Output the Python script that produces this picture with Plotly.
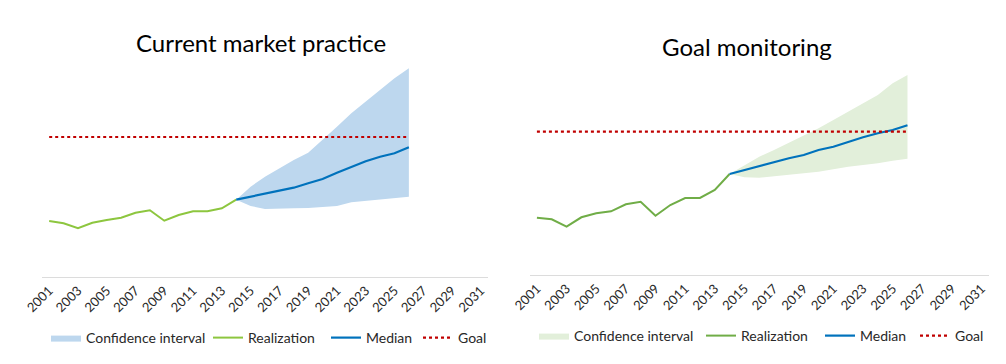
import plotly.graph_objects as go

years_hist = list(range(2001, 2015))
years_proj = list(range(2014, 2027))

# Left panel: Current market practice
left_realization = [56, 53.7, 48.7, 54.3, 57, 59.3, 64.3, 66.7, 56.3, 62, 65.7, 65.7, 68.7, 77.3]
left_median = [77.3, 80.3, 83.7, 86.3, 89.3, 93.7, 98, 104.3, 110.3, 115.7, 120.3, 123.7, 129.7]
left_upper = [77.3, 90.3, 100.3, 108.7, 117, 124.3, 137, 150.3, 163.7, 175.3, 187, 198.7, 208.7]
left_lower = [77.3, 71, 68, 68.7, 68.7, 69, 69.7, 71, 74.7, 76, 77, 78.7, 80.3]
left_goal = 140

# Right panel: Goal monitoring
right_realization = [57.3, 55.7, 48.3, 57.7, 61.7, 63.7, 70.7, 73.3, 59.3, 70, 77, 77, 85, 101]
right_median = [101, 105, 109, 112.7, 116.7, 120, 125, 128.3, 133.3, 137.7, 141.7, 145, 149.7]
right_upper = [101, 110, 118.3, 125, 132.3, 140, 146.7, 155, 163.3, 171.7, 180, 191.7, 200]
right_lower = [101, 97.7, 97.3, 99, 100, 101.7, 103.3, 106, 108.3, 110, 111.7, 114.3, 116.3]
right_goal = 143.3

goal_years = [2001, 2026]
titles = ["Current market practice", "Goal monitoring"]
legend_names = ["Confidence interval", "Realization", "Median", "Goal"]

FONT = "Lato"
OFF = 8  # page body margin in the browser
W, H = 1006 - 2 * OFF, 364 - 2 * OFF


def px(x):
    return (x - OFF) / W


def py(y):
    return (H - (y - OFF)) / H


fig = go.Figure()

panels = [
    dict(real=left_realization, med=left_median, up=left_upper, lo=left_lower, goal=left_goal,
         band="rgb(189,215,238)", real_col="rgb(141,198,63)", xa="x", ya="y",
         legs=["legend", "legend2", "legend3", "legend4"],
         leg_x=[51, 213, 331, 423], leg_y=338),
    dict(real=right_realization, med=right_median, up=right_upper, lo=right_lower, goal=right_goal,
         band="rgb(226,239,218)", real_col="rgb(112,173,71)", xa="x2", ya="y2",
         legs=["legend5", "legend6", "legend7", "legend8"],
         leg_x=[539, 706, 825, 920], leg_y=336),
]

for p in panels:
    lg = p["legs"]
    fig.add_trace(go.Scatter(x=years_proj, y=p["lo"], mode="lines", line=dict(width=0, color=p["band"]),
                             showlegend=False, hoverinfo="skip", xaxis=p["xa"], yaxis=p["ya"], legend=lg[0]))
    fig.add_trace(go.Scatter(x=years_proj, y=p["up"], mode="lines", line=dict(width=0, color=p["band"]),
                             fill="tonexty", fillcolor=p["band"], name=legend_names[0],
                             xaxis=p["xa"], yaxis=p["ya"], legend=lg[0]))
    fig.add_trace(go.Scatter(x=years_hist, y=p["real"], mode="lines", line=dict(width=2, color=p["real_col"]),
                             name=legend_names[1], xaxis=p["xa"], yaxis=p["ya"], legend=lg[1]))
    fig.add_trace(go.Scatter(x=years_proj, y=p["med"], mode="lines", line=dict(width=2.2, color="rgb(0,114,188)"),
                             name=legend_names[2], xaxis=p["xa"], yaxis=p["ya"], legend=lg[2]))
    fig.add_trace(go.Scatter(x=goal_years, y=[p["goal"]] * 2, mode="lines",
                             line=dict(width=2.2, color="rgb(192,0,0)", dash="dot"),
                             name=legend_names[3], xaxis=p["xa"], yaxis=p["ya"], legend=lg[3]))

xaxis_common = dict(range=[2000.5, 2031.5], tickmode="linear", tick0=2001, dtick=2, tickangle=-45,
                    showgrid=False, zeroline=False, showline=True, linecolor="rgb(220,220,220)", linewidth=1,
                    ticks="", tickfont=dict(family=FONT, size=13, color="rgb(40,40,40)"), fixedrange=True)
yaxis_common = dict(showgrid=False, zeroline=False, showline=False, showticklabels=False, fixedrange=True)

legend_layout = {}
for p in panels:
    for name, lx in zip(p["legs"], p["leg_x"]):
        legend_layout[name] = dict(orientation="h", x=px(lx - 5), xanchor="left",
                                   y=py(p["leg_y"]), yanchor="middle", itemwidth=30,
                                   font=dict(family=FONT, size=14, color="rgb(40,40,40)"),
                                   bgcolor="rgba(0,0,0,0)")

fig.update_layout(
    width=W, height=H,
    margin=dict(l=0, r=0, t=0, b=0, autoexpand=False),
    paper_bgcolor="white", plot_bgcolor="white",
    font=dict(family=FONT, color="rgb(30,30,30)"),
    xaxis=dict(domain=[px(42), px(488)], anchor="y", **xaxis_common),
    yaxis=dict(domain=[py(277), py(60)], range=[0, 217], anchor="x", **yaxis_common),
    xaxis2=dict(domain=[px(529.5), px(989)], anchor="y2", **xaxis_common),
    yaxis2=dict(domain=[py(275), py(60)], range=[0, 215], anchor="x2", **yaxis_common),
    annotations=[
        dict(text=titles[0], x=px(261), y=py(43), xref="paper", yref="paper", showarrow=False,
             xanchor="center", yanchor="middle", font=dict(family=FONT, size=24, color="black")),
        dict(text=titles[1], x=px(747), y=py(47), xref="paper", yref="paper", showarrow=False,
             xanchor="center", yanchor="middle", font=dict(family=FONT, size=24, color="black")),
    ],
    showlegend=True,
    **legend_layout,
)

fig.write_html("out.html")
